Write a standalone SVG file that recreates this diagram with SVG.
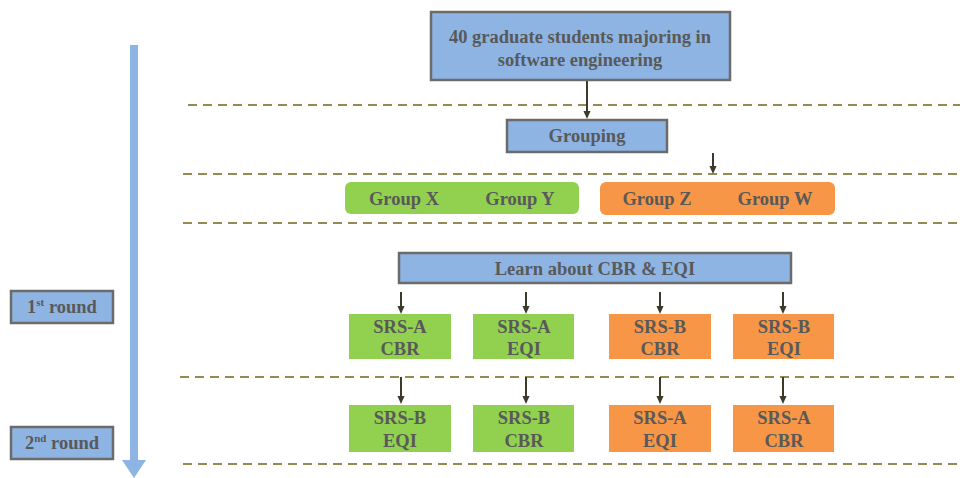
<svg xmlns="http://www.w3.org/2000/svg" width="960" height="478" viewBox="0 0 960 478">
<style>
.blue{fill:#8EB4E3;stroke:#6b6b6b;stroke-width:2.5}
.green{fill:#92D050}
.orange{fill:#F79646}
.t{font-family:"Liberation Serif",serif;font-weight:bold;font-size:18.5px;fill:#595959;text-anchor:middle}
.dash{stroke:#948A54;stroke-width:2;stroke-dasharray:9,6;fill:none}
.arr{stroke:#3d3a2a;stroke-width:2;fill:none;marker-end:url(#ah)}
</style>
<defs>
<marker id="ah" markerWidth="8" markerHeight="9" refX="4" refY="5" orient="auto-start-reverse" markerUnits="userSpaceOnUse" viewBox="0 0 8 9">
<path d="M0,0 L8,0 L4,9 z" fill="#3d3a2a" transform="rotate(-90 4 5)"/>
</marker>
</defs>
<rect width="960" height="478" fill="#fff"/>
<g id="timeline">
<rect x="130" y="45" width="8" height="418" fill="#8EB4E3"/>
<path d="M122,460 L146,460 L134,478 z" fill="#8EB4E3"/>
</g>
<g id="separators">
<line class="dash" x1="188" y1="105" x2="960" y2="105"/>
<line class="dash" x1="183" y1="174" x2="960" y2="174"/>
<line class="dash" x1="183" y1="223" x2="960" y2="223"/>
<line class="dash" x1="180" y1="377" x2="960" y2="377"/>
<line class="dash" x1="183" y1="464" x2="960" y2="464"/>
</g>
<g id="connectors">
<line class="arr" x1="587" y1="80" x2="587" y2="115"/>
<line class="arr" x1="713" y1="153" x2="713" y2="170"/>
<line class="arr" x1="401" y1="292" x2="401" y2="310"/>
<line class="arr" x1="526" y1="292" x2="526" y2="310"/>
<line class="arr" x1="660" y1="292" x2="660" y2="310"/>
<line class="arr" x1="783" y1="292" x2="783" y2="310"/>
<line class="arr" x1="401" y1="377" x2="401" y2="400"/>
<line class="arr" x1="526" y1="377" x2="526" y2="400"/>
<line class="arr" x1="660" y1="377" x2="660" y2="400"/>
<line class="arr" x1="783" y1="377" x2="783" y2="400"/>
</g>
<g id="students">
<rect class="blue" x="431" y="12" width="299" height="68"/>
<text class="t" x="580" y="43" font-size="19.5">40 graduate students majoring in</text>
<text class="t" x="580" y="66" font-size="19.5">software engineering</text>
</g>
<g id="grouping">
<rect class="blue" x="507" y="120" width="160" height="32"/>
<text class="t" x="587" y="142">Grouping</text>
</g>
<g id="groupXY">
<rect class="green" x="345" y="182" width="234" height="32" rx="6"/>
<text class="t" x="404" y="205">Group X</text>
<text class="t" x="520" y="205">Group Y</text>
</g>
<g id="groupZW">
<rect class="orange" x="600" y="182" width="235" height="33" rx="6"/>
<text class="t" x="657" y="205">Group Z</text>
<text class="t" x="775" y="205">Group W</text>
</g>
<g id="learn">
<rect class="blue" x="399" y="253" width="392" height="30"/>
<text class="t" x="595" y="275">Learn about CBR &amp; EQI</text>
</g>
<g id="round1">
<rect class="blue" x="11" y="291" width="102" height="32"/>
<text class="t" x="62" y="313">1<tspan font-size="11" dy="-7">st</tspan><tspan dy="7"> round</tspan></text>
</g>
<g id="round2">
<rect class="blue" x="11" y="427" width="102" height="32"/>
<text class="t" x="62" y="449">2<tspan font-size="11" dy="-7">nd</tspan><tspan dy="7"> round</tspan></text>
</g>
<g id="r1a">
<rect class="green" x="349" y="314" width="102" height="45"/>
<text class="t" x="400" y="333">SRS-A</text><text class="t" x="400" y="355">CBR</text>
</g>
<g id="r1b">
<rect class="green" x="473" y="314" width="101" height="45"/>
<text class="t" x="524" y="333">SRS-A</text><text class="t" x="524" y="355">EQI</text>
</g>
<g id="r1c">
<rect class="orange" x="609" y="314" width="102" height="45"/>
<text class="t" x="660" y="333">SRS-B</text><text class="t" x="660" y="355">CBR</text>
</g>
<g id="r1d">
<rect class="orange" x="733" y="314" width="101" height="45"/>
<text class="t" x="784" y="333">SRS-B</text><text class="t" x="784" y="355">EQI</text>
</g>
<g id="r2a">
<rect class="green" x="349" y="405" width="102" height="47"/>
<text class="t" x="400" y="424">SRS-B</text><text class="t" x="400" y="447">EQI</text>
</g>
<g id="r2b">
<rect class="green" x="473" y="405" width="101" height="47"/>
<text class="t" x="524" y="424">SRS-B</text><text class="t" x="524" y="447">CBR</text>
</g>
<g id="r2c">
<rect class="orange" x="609" y="405" width="102" height="47"/>
<text class="t" x="660" y="424">SRS-A</text><text class="t" x="660" y="447">EQI</text>
</g>
<g id="r2d">
<rect class="orange" x="733" y="405" width="101" height="47"/>
<text class="t" x="784" y="424">SRS-A</text><text class="t" x="784" y="447">CBR</text>
</g>
</svg>
